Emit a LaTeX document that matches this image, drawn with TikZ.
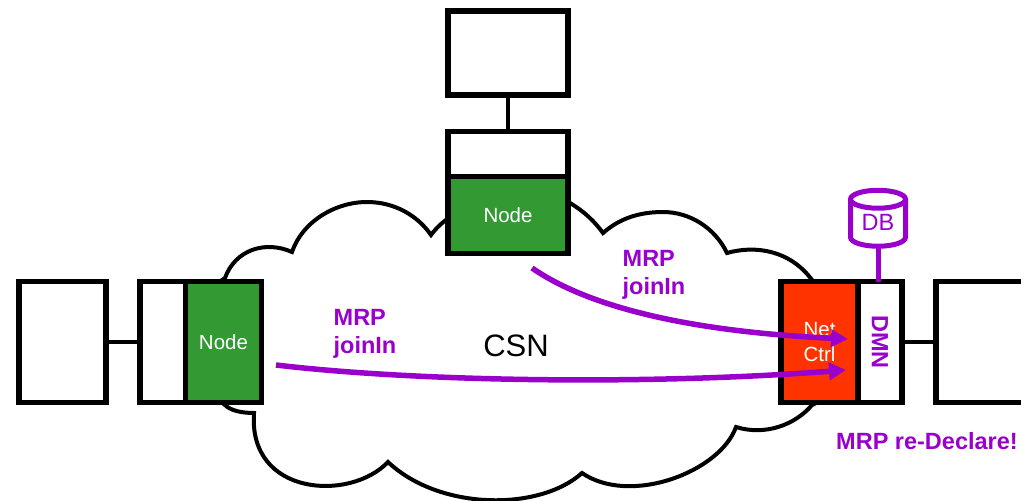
\documentclass[tikz,border=0pt]{standalone}
\usepackage{fontspec}
\setmainfont{Liberation Sans}
\usetikzlibrary{arrows.meta,shapes.geometric}
\definecolor{nodegreen}{HTML}{339933}
\definecolor{ctrlred}{HTML}{FF3300}
\definecolor{mrppurple}{HTML}{9900CC}
\tikzset{
  boxbase/.style={draw=black,line width=5.5pt,outer sep=0pt,inner sep=0pt,fill=white},
  linkline/.style={draw=black,line width=3.5pt},
  greennode/.style={boxbase,fill=nodegreen,text=white,font=\fontsize{20.5}{24}\selectfont},
  ctrlnode/.style={boxbase,fill=ctrlred,text=white,align=center,font=\fontsize{20.5}{25}\selectfont},
  mrplabel/.style={text=mrppurple,align=left,inner sep=0pt,font=\bfseries\fontsize{23.5}{28}\selectfont},
  mrparrow/.style={draw=mrppurple,line width=5.5pt,-{Triangle[length=17pt,width=17pt]}}
}
\begin{document}
\begin{tikzpicture}[x=1pt,y=-1pt]
\useasboundingbox (0,0) rectangle (1021,501);
% cloud
\path[draw=black,fill=white,line width=4pt,line join=miter]
  (225,278) .. controls (235,250) and (265,240) .. (292,252)
  .. controls (302,222) and (335,202) .. (367,202)
  .. controls (395,202) and (418,216) .. (431,235)
  .. controls (460,195) and (540,185) .. (570,203)
  .. controls (585,212) and (595,222) .. (603,233)
  .. controls (620,218) and (640,212) .. (663,212)
  .. controls (690,212) and (715,228) .. (727,253)
  .. controls (755,245) and (790,250) .. (812,280)
  .. controls (850,300) and (850,390) .. (812,405)
  .. controls (795,425) and (765,436) .. (736,427)
  .. controls (720,472) and (630,506) .. (582,473)
  .. controls (540,511) and (440,511) .. (388,462)
  .. controls (350,502) and (248,496) .. (254,413)
  .. controls (240,413) and (230,410) .. (225,405)
  .. controls (190,380) and (190,300) .. (225,278) -- cycle;
% top column
\node[boxbase,minimum width=120pt,minimum height=84pt] (topbox) at (508,53) {};
\node[boxbase,minimum width=120pt,minimum height=45pt] (midbox) at (508,154) {};
\node[greennode,minimum width=120pt,minimum height=77pt] (topnode) at (508,215) {Node};
\draw[linkline] (topbox.south) -- (midbox.north);
% left column
\node[boxbase,minimum width=87pt,minimum height=121pt] (leftbox) at (62.5,342) {};
\node[boxbase,minimum width=46pt,minimum height=121pt] (leftmid) at (163,342) {};
\node[greennode,minimum width=76pt,minimum height=121pt] (leftnode) at (223.5,342) {Node};
\draw[linkline] (leftbox.east) -- (leftmid.west);
% right column
\node[ctrlnode,minimum width=77pt,minimum height=121pt] (ctrl) at (819.5,342) {Net\\Ctrl};
\node[boxbase,minimum width=44pt,minimum height=121pt,text=mrppurple,font=\bfseries\fontsize{23.5}{28}\selectfont] (dmn) at (880,342) {\rotatebox{-90}{DMN}};
\node[boxbase,minimum width=110pt,minimum height=121pt,anchor=west] (rightbox) at (936,342) {};
\draw[linkline] (dmn.east) -- (rightbox.west);
% database
\node[cylinder,shape border rotate=90,aspect=0.55,draw=mrppurple,fill=white,line width=5pt,outer sep=0pt,inner sep=0pt,minimum width=55pt,minimum height=56pt,text=mrppurple,font=\fontsize{23.5}{28}\selectfont] (db) at (878,224) {\raisebox{4pt}{DB}};
\draw[draw=mrppurple,line width=5pt] (db.south) -- (db.south |- dmn.north);
% labels
\node[inner sep=0pt,font=\fontsize{31}{36}\selectfont] (csn) at (516,346) {CSN};
\node[mrplabel] (lblone) at (365,334) {MRP\\joinIn};
\node[mrplabel] (lbltwo) at (654,275) {MRP\\joinIn};
\node[mrplabel] (lblthree) at (927,441) {MRP re-Declare!};
% arrows
\coordinate (startone) at (532,268);
\coordinate (endone) at (848,339);
\coordinate (starttwo) at (276,365);
\coordinate (endtwo) at (846,370);
\draw[mrparrow] (startone) .. controls (600,315) and (720,333) .. (endone);
\draw[mrparrow] (starttwo) .. controls (420,382) and (650,385) .. (endtwo);
\end{tikzpicture}
\end{document}
